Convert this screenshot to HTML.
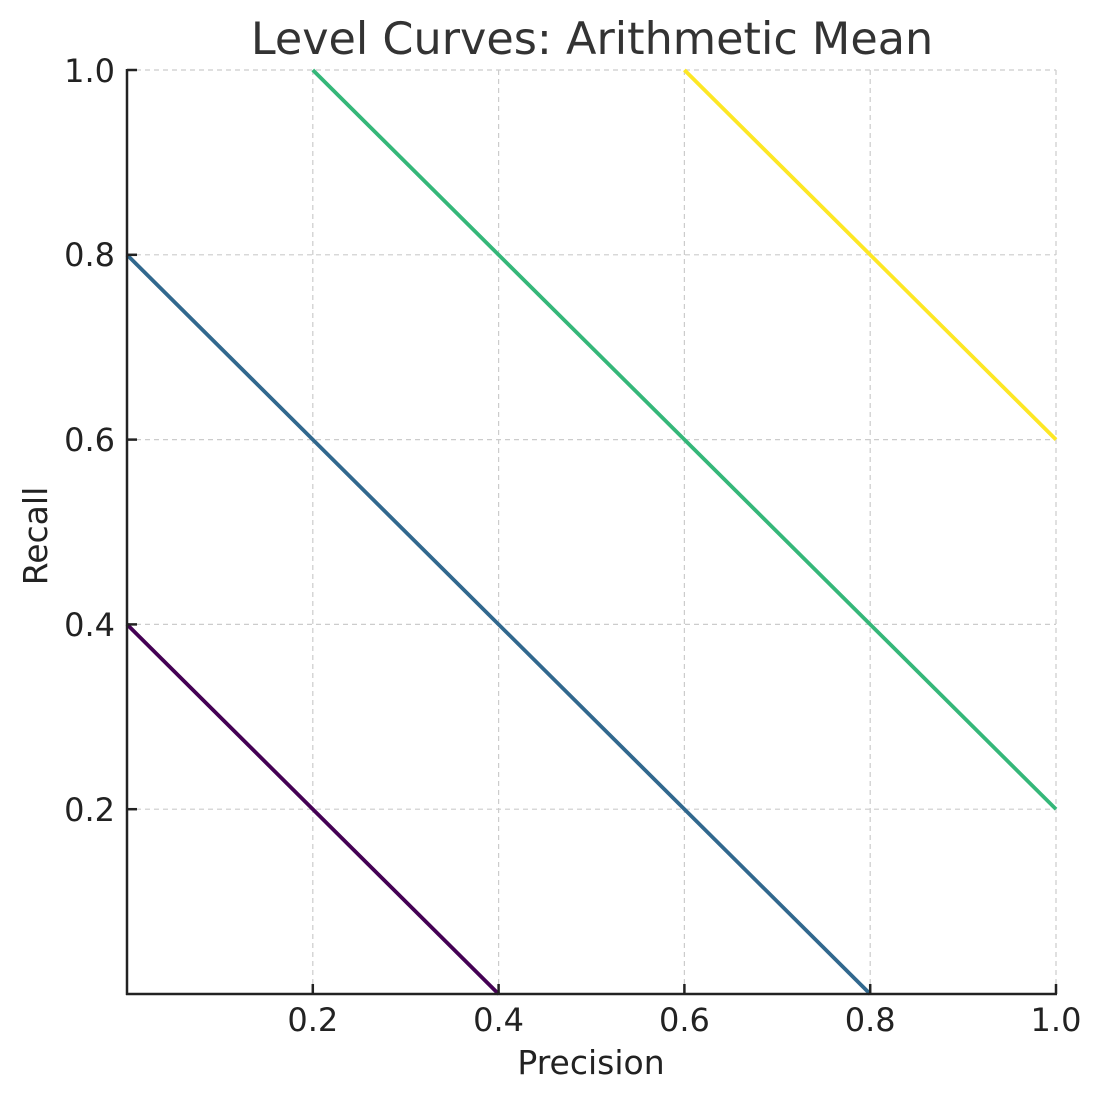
<!DOCTYPE html>
<html><head><meta charset="utf-8"><style>html,body{margin:0;padding:0;background:#fff}</style></head>
<body>
<svg width="1103" height="1101" viewBox="0 0 1103 1101" xmlns="http://www.w3.org/2000/svg" font-family="DejaVu Sans, Liberation Sans, sans-serif">
<rect width="1103" height="1101" fill="#fff"/>
<g stroke="#cccccc" stroke-width="1.2" stroke-dasharray="5,4" fill="none">
<line x1="312.8" y1="70" x2="312.8" y2="994"/><line x1="498.6" y1="70" x2="498.6" y2="994"/>
<line x1="684.4" y1="70" x2="684.4" y2="994"/><line x1="870.2" y1="70" x2="870.2" y2="994"/>
<line x1="1056" y1="70" x2="1056" y2="994"/>
<line x1="127" y1="809.2" x2="1056" y2="809.2"/><line x1="127" y1="624.4" x2="1056" y2="624.4"/>
<line x1="127" y1="439.6" x2="1056" y2="439.6"/><line x1="127" y1="254.8" x2="1056" y2="254.8"/>
<line x1="127" y1="70" x2="1056" y2="70"/>
</g>
<g stroke-width="3.8" fill="none">
<line x1="127" y1="624.4" x2="498.6" y2="994" stroke="#440154"/>
<line x1="127" y1="254.8" x2="870.2" y2="994" stroke="#31688e"/>
<line x1="312.8" y1="70" x2="1056" y2="809.2" stroke="#35b779"/>
<line x1="684.4" y1="70" x2="1056" y2="439.6" stroke="#fde725"/>
</g>
<g stroke="#222" stroke-width="2.5" fill="none">
<line x1="127" y1="69" x2="127" y2="995"/><line x1="126" y1="994" x2="1057" y2="994"/>
<line x1="312.8" y1="994" x2="312.8" y2="984"/><line x1="498.6" y1="994" x2="498.6" y2="984"/>
<line x1="684.4" y1="994" x2="684.4" y2="984"/><line x1="870.2" y1="994" x2="870.2" y2="984"/>
<line x1="1056" y1="994" x2="1056" y2="984"/>
<line x1="127" y1="809.2" x2="137" y2="809.2"/><line x1="127" y1="624.4" x2="137" y2="624.4"/>
<line x1="127" y1="439.6" x2="137" y2="439.6"/><line x1="127" y1="254.8" x2="137" y2="254.8"/>
<line x1="127" y1="70" x2="137" y2="70"/>
</g>
<g fill="#222" font-size="32" text-anchor="middle">
<text x="312.8" y="1031">0.2</text><text x="498.6" y="1031">0.4</text><text x="684.4" y="1031">0.6</text>
<text x="870.2" y="1031">0.8</text><text x="1056" y="1031">1.0</text>
</g>
<g fill="#222" font-size="32" text-anchor="end">
<text x="115" y="821">0.2</text><text x="115" y="636">0.4</text><text x="115" y="451">0.6</text>
<text x="115" y="266">0.8</text><text x="115" y="82">1.0</text>
</g>
<text x="591" y="1074" font-size="33" fill="#222" text-anchor="middle">Precision</text>
<text x="0" y="0" font-size="33" fill="#222" text-anchor="middle" transform="translate(47,536) rotate(-90)">Recall</text>
<text x="592" y="54" font-size="44.5" fill="#333" text-anchor="middle">Level Curves: Arithmetic Mean</text>
</svg>
</body></html>
